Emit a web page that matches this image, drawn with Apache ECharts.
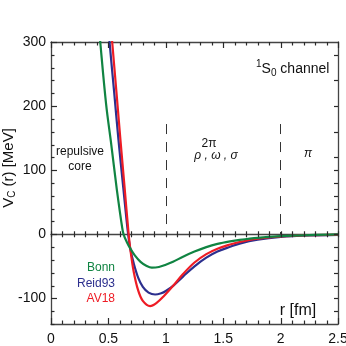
<!DOCTYPE html>
<html>
<head>
<meta charset="utf-8">
<script src="https://cdn.jsdelivr.net/npm/echarts@6/dist/echarts.min.js"></script>
<style>html,body{margin:0;padding:0;background:#fff}#chart{width:346px;height:346px}</style>
</head>
<body>
<div id="chart"></div>
<script>
// r [fm] / Vc(r) [MeV]
const bonnR = [0.40, 0.429, 0.48, 0.525, 0.574, 0.60, 0.617, 0.632, 0.66, 0.69, 0.73, 0.78, 0.83, 0.878, 0.94, 1.0, 1.063, 1.15, 1.25, 1.353, 1.45, 1.56, 1.643, 1.8, 2.0, 2.25, 2.5]
const bonnV = [360, 300, 203, 140, 69, 35, 14, 0, -12, -22, -33, -43, -49, -52, -51, -47.5, -43, -35, -27, -20, -15, -11, -8.7, -5.5, -3, -1.2, -0.3]

const reidR = [0.49, 0.51, 0.55, 0.588, 0.63, 0.67, 0.69, 0.72, 0.76, 0.80, 0.85, 0.907, 0.96, 1.0, 1.066, 1.15, 1.25, 1.353, 1.45, 1.56, 1.643, 1.8, 2.0, 2.25, 2.5]
const reidV = [350, 300, 222, 147, 72, 3, -22, -45, -68, -82, -91, -94, -92, -88.5, -80, -66, -50, -36.5, -27, -19.5, -14.5, -8.5, -4.2, -1.8, -0.8]

const av18R = [0.52, 0.533, 0.57, 0.605, 0.64, 0.675, 0.69, 0.72, 0.76, 0.80, 0.863, 0.92, 0.98, 1.066, 1.15, 1.25, 1.353, 1.45, 1.56, 1.643, 1.8, 2.0, 2.25, 2.5]
const av18V = [330, 300, 222, 147, 75, 3, -22, -58, -88, -104, -112, -107, -97, -80, -62, -44, -31, -22.5, -16, -12, -7, -3.5, -1.4, -0.5]

const names = ['Bonn', 'Reid93', 'AV18']
const colors = ['#108442', '#2c2f8e', '#ee1c25']

// axis range and ticks
const xMin = 0, xMax = 2.5
const yMin = -140, yMax = 300
const xMajor = [0, 0.5, 1, 1.5, 2, 2.5]
const yMajor = [-100, 0, 100, 200, 300]
const rightTicks = [280, 240, 200, 160, 120, 100, 80, 60, 40, 20, 0, -20, -40, -60, -80, -100, -120]
const dividerR = [1, 2]
const dividerTop = 172

const xMinor = []
for (let i = 0; i <= 25; i++) xMinor.push(+(i * 0.1).toFixed(1))
const yMinor = []
for (let v = yMin; v <= yMax; v += 20) yMinor.push(v)

const font = 'Liberation Sans, Arial, sans-serif'
const gray = '#444'
const tickColor = '#2a2a2a'

const pair = (rs, vs) => rs.map((r, i) => [r, vs[i]])

// tick items: [value, side, major]; side 0 bottom, 1 top, 2 zero line, 3 left, 4 right
const tickData = []
xMinor.forEach(v => {
  const major = xMajor.indexOf(v) >= 0 ? 1 : 0
  tickData.push([v, 0, major], [v, 1, major], [v, 2, major])
})
yMinor.forEach(v => tickData.push([v, 3, yMajor.indexOf(v) >= 0 ? 1 : 0]))
rightTicks.forEach(v => tickData.push([v, 4, 0]))

const crisp = n => Math.round(n) + 0.5

function renderTick(params, api) {
  const item = tickData[params.dataIndex]
  const v = item[0], side = item[1], major = item[2]
  const len = major ? 6 : 3.5
  let p, s
  if (side === 0) { p = api.coord([v, yMin]); s = { x1: crisp(p[0]), y1: p[1], x2: crisp(p[0]), y2: p[1] - len } }
  else if (side === 1) { p = api.coord([v, yMax]); s = { x1: crisp(p[0]), y1: p[1], x2: crisp(p[0]), y2: p[1] + len } }
  else if (side === 2) { p = api.coord([v, 0]); s = { x1: crisp(p[0]), y1: p[1] - 3, x2: crisp(p[0]), y2: p[1] + 3 } }
  else if (side === 3) { p = api.coord([xMin, v]); s = { x1: p[0], y1: crisp(p[1]), x2: p[0] + len, y2: crisp(p[1]) } }
  else { p = api.coord([xMax, v]); s = { x1: p[0], y1: crisp(p[1]), x2: p[0] - 4, y2: crisp(p[1]) } }
  return { type: 'line', shape: s, style: { stroke: tickColor, lineWidth: 1.2 } }
}

const axisLine = { show: true, onZero: false, lineStyle: { color: gray, width: 1.3 } }

const chart = echarts.init(document.getElementById('chart'))

const series = [
  { name: names[1], data: pair(reidR, reidV), color: colors[1] },
  { name: names[2], data: pair(av18R, av18V), color: colors[2] },
  { name: names[0], data: pair(bonnR, bonnV), color: colors[0] }
].map(s => ({
  type: 'line',
  name: s.name,
  data: s.data,
  showSymbol: false,
  smooth: 0.35,
  clip: true,
  z: 3,
  lineStyle: { color: s.color, width: 2.2 },
  itemStyle: { color: s.color }
}))

series[0].markLine = {
  silent: true,
  symbol: 'none',
  label: { show: false },
  lineStyle: { color: '#333', width: 1, type: [10, 8] },
  data: dividerR.map(r => [{ coord: [r, dividerTop] }, { coord: [r, 0] }])
}

series.unshift({
  type: 'custom',
  coordinateSystem: 'cartesian2d',
  data: tickData.map((t, i) => [1, 0]),
  renderItem: renderTick,
  silent: true,
  clip: false,
  z: 4
})

const txt = (x, y, text, extra) => ({
  type: 'text', x: x, y: y, silent: true,
  style: Object.assign({ text: text, fill: '#111', fontSize: 12, fontFamily: font, align: 'center', verticalAlign: 'middle' }, extra || {})
})

const option = {
  animation: false,
  backgroundColor: '#fff',
  grid: { left: 51, top: 42, width: 287, height: 282, outerBoundsMode: 'none', containLabel: false },
  xAxis: [
    { type: 'value', min: xMin, max: xMax, interval: 0.5, position: 'bottom', axisLine: axisLine,
      axisTick: { show: false }, splitLine: { show: false },
      axisLabel: { color: '#111', fontSize: 14, fontFamily: font, margin: 8 } },
    { type: 'value', min: xMin, max: xMax, interval: 0.5, position: 'top', axisLine: axisLine,
      axisTick: { show: false }, splitLine: { show: false }, axisLabel: { show: false } },
    { type: 'value', min: xMin, max: xMax, interval: 0.5, position: 'bottom',
      axisLine: { show: true, onZero: true, onZeroAxisIndex: 0, lineStyle: { color: gray, width: 1.3 } },
      axisTick: { show: false }, splitLine: { show: false }, axisLabel: { show: false } }
  ],
  yAxis: [
    { type: 'value', min: yMin, max: yMax, position: 'left', axisLine: axisLine,
      axisTick: { show: false }, splitLine: { show: false },
      axisLabel: { customValues: yMajor, color: '#111', fontSize: 14, fontFamily: font, margin: 5 } },
    { type: 'value', min: yMin, max: yMax, position: 'right', axisLine: axisLine,
      axisTick: { show: false }, splitLine: { show: false }, axisLabel: { show: false } }
  ],
  series: series,
  graphic: [
    txt(9, 168, '{a|V}{b|C}{a| (r) [MeV]}', { rich: {
      a: { fontSize: 15, fontFamily: font, fill: '#111' },
      b: { fontSize: 10, fontFamily: font, fill: '#111', padding: [7, 0, 0, 0] } } }),
    txt(256, 69, '{s|1}{b|S}{u|0}{b| channel}', { align: 'left', rich: {
      s: { fontSize: 10, fontFamily: font, fill: '#111', padding: [0, 0, 10, 0] },
      b: { fontSize: 14, fontFamily: font, fill: '#111' },
      u: { fontSize: 10, fontFamily: font, fill: '#111', padding: [8, 0, 0, 0] } } }),
    txt(80, 152, 'repulsive'),
    txt(80, 167, 'core'),
    txt(209, 144, '2\u03c0'),
    txt(216, 156, '\u03c1 , \u03c9 , \u03c3', { fontStyle: 'italic' }),
    txt(308, 154, '\u03c0', { fontStyle: 'italic' }),
    txt(115, 268, names[0], { align: 'right', fill: colors[0] }),
    txt(115, 283.5, names[1], { align: 'right', fill: colors[1] }),
    txt(115, 299, names[2], { align: 'right', fill: colors[2] }),
    txt(298, 311, 'r [fm]', { fontSize: 16 })
  ]
}
option.graphic[0].rotation = Math.PI / 2
chart.setOption(option)
</script>
</body>
</html>
